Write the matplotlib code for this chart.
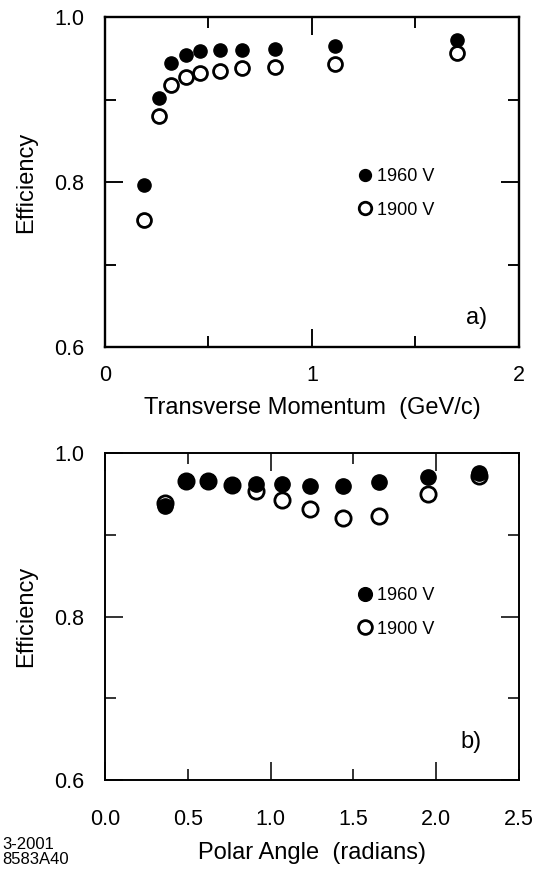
import matplotlib.pyplot as plt
from matplotlib.ticker import MultipleLocator, FixedLocator, FixedFormatter

plt.rcParams['font.family'] = ['Liberation Sans', 'DejaVu Sans']

# panel a) transverse momentum
pt = [0.19, 0.26, 0.32, 0.39, 0.46, 0.556, 0.66, 0.82, 1.11, 1.70]
eff_pt_1960 = [0.796, 0.902, 0.944, 0.954, 0.959, 0.960, 0.960, 0.961, 0.965, 0.972]
eff_pt_1900 = [0.754, 0.880, 0.918, 0.927, 0.932, 0.935, 0.938, 0.939, 0.943, 0.956]

# panel b) polar angle
theta = [0.363, 0.487, 0.625, 0.766, 0.911, 1.072, 1.239, 1.435, 1.657, 1.95, 2.26]
eff_th_1960 = [0.935, 0.966, 0.966, 0.961, 0.962, 0.962, 0.960, 0.960, 0.964, 0.971, 0.976]
eff_th_1900 = [0.939, 0.966, 0.966, 0.961, 0.953, 0.943, 0.931, 0.921, 0.923, 0.950, 0.972]

fig = plt.figure(figsize=(5.41, 8.69), dpi=100)
ax1 = fig.add_axes([0.194, 0.6007, 0.765, 0.3797])
ax2 = fig.add_axes([0.194, 0.1024, 0.765, 0.3763])


def style(ax, lw):
    for s in ax.spines.values():
        s.set_linewidth(lw)
    ax.tick_params(which='both', direction='in', top=True, right=True,
                   width=lw * 0.8, labelsize=15.5)
    ax.tick_params(axis='y', which='both', pad=15)
    ax.tick_params(which='major', length=13)
    ax.tick_params(which='minor', length=8)
    ax.set_ylim(0.6, 1.0)
    ax.yaxis.set_major_locator(FixedLocator([0.6, 0.8, 1.0]))
    ax.yaxis.set_major_formatter(FixedFormatter(['0.6', '0.8', '1.0']))
    ax.yaxis.set_minor_locator(FixedLocator([0.7, 0.9]))
    ax.set_ylabel('Efficiency', fontsize=17)
    ax.yaxis.set_label_coords(-0.165, 0.5)


def add_legend(ax, y):
    h, l = ax.get_legend_handles_labels()
    ax.legend(h[::-1], l[::-1], loc='center left', bbox_to_anchor=(0.576, y),
              frameon=False, handlelength=0.6, handletextpad=0.35, labelspacing=0.9,
              fontsize=13, markerscale=0.9)


# %% panel a
style(ax1, 1.7)
ax1.plot(pt, eff_pt_1900, 'o', mfc='white', mec='black', mew=2, ms=10, label='1900 V')
ax1.plot(pt, eff_pt_1960, 'o', color='black', ms=9.5, label='1960 V')
ax1.set_xlim(0, 2)
ax1.xaxis.set_major_locator(MultipleLocator(1))
ax1.xaxis.set_minor_locator(FixedLocator([0.5, 1.5]))
ax1.tick_params(axis='x', which='both', pad=13)
ax1.set_xlabel('Transverse Momentum  (GeV/c)', fontsize=17, va='top')
ax1.xaxis.set_label_coords(0.5, -0.152)
add_legend(ax1, 0.465)
ax1.text(0.899, 0.088, 'a)', transform=ax1.transAxes, fontsize=17, ha='center', va='center')

# %% panel b
style(ax2, 1.4)
ax2.plot(theta, eff_th_1900, 'o', mfc='white', mec='black', mew=2, ms=11, label='1900 V')
ax2.plot(theta, eff_th_1960, 'o', color='black', ms=11, label='1960 V')
ax2.set_xlim(0, 2.5)
ax2.xaxis.set_major_locator(FixedLocator([0.0, 1.0, 2.0]))
ax2.xaxis.set_major_formatter(FixedFormatter(['0.0', '1.0', '2.0']))
ax2.xaxis.set_minor_locator(FixedLocator([0.5, 1.5, 2.5]))
ax2.xaxis.set_minor_formatter(FixedFormatter(['0.5', '1.5', '2.5']))
ax2.tick_params(axis='x', which='both', labelsize=15.5, pad=21)
ax2.set_xlabel('Polar Angle  (radians)', fontsize=17, va='top')
ax2.xaxis.set_label_coords(0.5, -0.19)
add_legend(ax2, 0.512)
ax2.text(0.884, 0.116, 'b)', transform=ax2.transAxes, fontsize=17, ha='center', va='center')

fig.text(0.005, 0.002, '3-2001\n8583A40', fontsize=12, ha='left', va='bottom', linespacing=1.0)

fig.savefig('out.png', dpi=100)
